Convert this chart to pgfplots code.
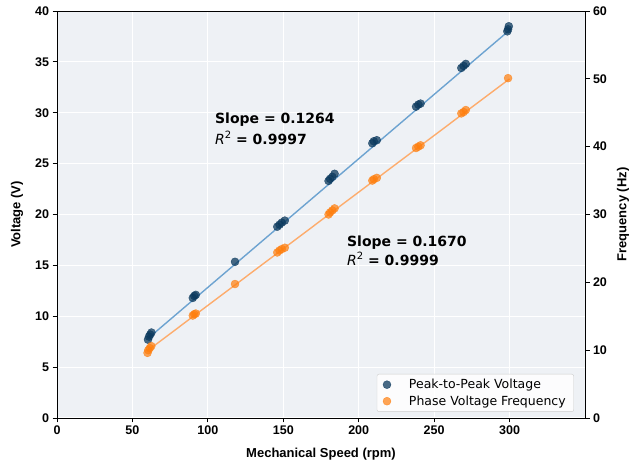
\documentclass[border=0pt]{standalone}
\usepackage{fontspec}
\setmainfont{Liberation Sans}
\newfontfamily\dejavu{DejaVu Sans}
\usepackage{pgfplots}
\pgfplotsset{compat=1.18}
\definecolor{bgcol}{RGB}{238,241,245}
\definecolor{bluept}{RGB}{12,58,94}
\definecolor{blueln}{RGB}{95,155,205}
\definecolor{orangept}{RGB}{255,127,14}
\definecolor{orangeln}{RGB}{255,165,95}
\begin{document}
\begin{tikzpicture}
\pgfplotsset{
  common/.style={
    scale only axis, width=528pt, height=407pt,
    xmin=0, xmax=350,
    tick align=outside,
    major tick length=4.5pt,
    every tick/.style={black, line width=0.8pt},
    /pgf/number format/assume math mode=true,
    tick label style={font=\fontsize{12.5}{14}\selectfont\bfseries},
    axis line style={line width=0.8pt, black},
  }
}
\begin{axis}[common, name=main,
  ymin=0, ymax=40,
  xtick={0,50,...,300}, ytick={0,5,...,40},
  xtick pos=left, ytick pos=left,
  axis background/.style={fill=bgcol},
  grid=major, major grid style={white, line width=1.2pt},
  xlabel={Mechanical Speed (rpm)}, ylabel={Voltage (V)},
  every axis x label/.style={at={(axis description cs:0.5,0)}, yshift=-36pt, anchor=center, font=\fontsize{13}{15}\selectfont\bfseries},
  every axis y label/.style={at={(axis description cs:0,0.5)}, xshift=-40pt, anchor=center, rotate=90, font=\fontsize{13}{15}\selectfont\bfseries},
]
\addplot[blueln, line width=1.4pt, opacity=0.9] coordinates {(60,7.78) (300,38.12)};
\addplot[only marks, mark=*, mark size=4pt, mark options={draw=bluept, fill=bluept, opacity=0.75}] coordinates {
(60.3,7.7) (61,8.0) (61.8,8.2) (62.6,8.4)
(90,11.8) (91,12.0) (92,12.1)
(118,15.35)
(146,18.8) (147.5,19.0) (149,19.2) (151,19.4)
(180,23.3) (181,23.5) (182.5,23.7) (184,24.0)
(209,27.0) (210,27.2) (212,27.3)
(238,30.6) (239.5,30.8) (241,30.9)
(268,34.4) (269.5,34.6) (271,34.8)
(298.5,38.0) (299,38.2) (299.5,38.5)
};
\node[anchor=base west, inner sep=0pt, font=\dejavu\fontsize{14}{16}\selectfont\bfseries] at (axis cs:104.7,28.9) {Slope = 0.1264};
\node[anchor=base west, inner sep=0pt, font=\dejavu\fontsize{14}{16}\selectfont] at (axis cs:104.7,26.83) {\textit{R}\raisebox{0.45em}{\fontsize{10}{10}\selectfont 2}\textbf{ = 0.9997}};
\node[anchor=base west, inner sep=0pt, font=\dejavu\fontsize{14}{16}\selectfont\bfseries] at (axis cs:192.2,16.9) {Slope = 0.1670};
\node[anchor=base west, inner sep=0pt, font=\dejavu\fontsize{14}{16}\selectfont] at (axis cs:192.2,14.94) {\textit{R}\raisebox{0.45em}{\fontsize{10}{10}\selectfont 2}\textbf{ = 0.9999}};
\end{axis}
\begin{axis}[common, at={(main.south west)}, anchor=south west,
  ymin=0, ymax=60, ytick={0,10,...,60},
  hide x axis, axis y line*=right,
  ylabel={Frequency (Hz)},
  every axis y label/.style={at={(axis description cs:1,0.5)}, xshift=38pt, anchor=center, rotate=90, font=\fontsize{13}{15}\selectfont\bfseries},
  legend style={at={(0.979,0.015)}, anchor=south east, draw={rgb,255:red,204;green,204;blue,204}, rounded corners=2pt,
    fill=white, fill opacity=0.85, text opacity=1, font=\dejavu\fontsize{12.5}{15}\selectfont,
    inner xsep=6pt, inner ysep=3pt, row sep=1.5pt,
    /tikz/every odd column/.append style={column sep=16pt}},
  legend cell align=left,
]
\addlegendimage{only marks, mark=*, mark size=4pt, mark options={draw=bluept, fill=bluept, opacity=0.75}}
\addlegendentry{Peak-to-Peak Voltage}
\addplot[orangeln, line width=1.4pt, opacity=0.9, forget plot] coordinates {(60,9.92) (300,50.0)};
\addplot[only marks, mark=*, mark size=4pt, mark options={draw=orangept, fill=orangept, opacity=0.7}] coordinates {
(60,9.6) (60.5,10.0) (61.5,10.3) (62.5,10.6)
(90,15.1) (91,15.3) (92,15.4)
(118,19.75)
(146,24.4) (147.5,24.7) (149,24.9) (151,25.1)
(180,30.0) (181,30.3) (182.5,30.6) (184,30.9)
(209,35.0) (210,35.2) (212,35.4)
(238,39.8) (239.5,40.0) (241,40.2)
(268,44.9) (269.5,45.1) (271,45.4)
(299,50.1)
};
\addlegendentry{Phase Voltage Frequency}
\end{axis}
\pgfresetboundingbox
\path (main.south west) ++(-57pt,-48pt) rectangle (main.north east);
\path (main.north east) ++(45pt,11pt);
\end{tikzpicture}
\end{document}
